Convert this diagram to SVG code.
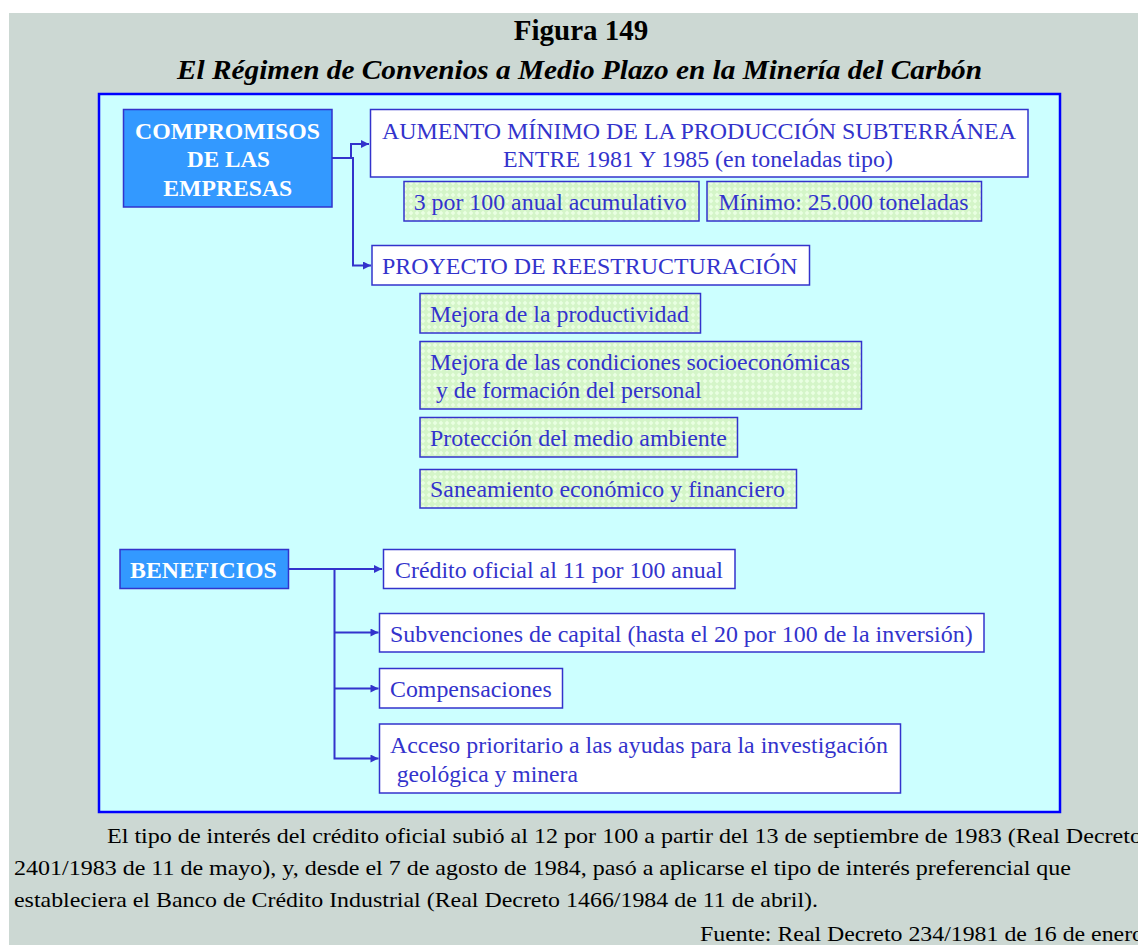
<svg xmlns="http://www.w3.org/2000/svg" width="1138" height="945" viewBox="0 0 1138 945">
<style>
.t{font-family:"Liberation Serif","Times New Roman",serif}
.title{font-weight:bold;fill:#000;font-size:29px}
.sub{font-weight:bold;font-style:italic;fill:#000;font-size:27px}
.head{fill:#3399FF;stroke:#3333CC;stroke-width:1.5}
.headtxt{font-weight:bold;fill:#fff;font-size:23px}
.wbox{fill:#fff;stroke:#3333CC;stroke-width:1.5}
.gbox{fill:url(#hatch);stroke:#3333CC;stroke-width:1.5}
.btxt{fill:#3333CC;font-size:23px}
.note{fill:#000;font-size:21px}
.conn{fill:none;stroke:#3333CC;stroke-width:2}
</style>
<defs>
<pattern id="hatch" width="6" height="6" patternUnits="userSpaceOnUse">
<rect width="6" height="6" fill="#D4F5C8"/>
<path d="M3 0.6 L5.4 3 L3 5.4 L0.6 3 Z" fill="#E9FFE2"/>
</pattern>
<marker id="arr" viewBox="0 0 10 10" refX="10" refY="5" markerWidth="9" markerHeight="8" markerUnits="userSpaceOnUse" orient="auto">
<path d="M0 0 L10 5 L0 10 Z" fill="#3333CC"/>
</marker>
</defs>
<rect x="9" y="13" width="1129" height="932" fill="#CCD8D3"/>
<text class="t title" x="581" y="40" text-anchor="middle">Figura 149</text>
<text class="t sub" x="177" y="79" textLength="805" lengthAdjust="spacingAndGlyphs">El Régimen de Convenios a Medio Plazo en la Minería del Carbón</text>
<rect x="99" y="94" width="961" height="718" fill="#CCFFFF" stroke="#0000FF" stroke-width="2.5"/>

<g id="connectors">
<polyline class="conn" points="332,158 351,158 351,144 369,144" marker-end="url(#arr)"/>
<polyline class="conn" points="332,158 353,158 353,265.5 371,265.5" marker-end="url(#arr)"/>
<polyline class="conn" points="289,569 382,569" marker-end="url(#arr)"/>
<polyline class="conn" points="334.5,569 334.5,758.5 378.5,758.5" marker-end="url(#arr)"/>
<polyline class="conn" points="334.5,632.5 378.5,632.5" marker-end="url(#arr)"/>
<polyline class="conn" points="334.5,688.5 378.5,688.5" marker-end="url(#arr)"/>
</g>

<g id="compromisos">
<rect class="head" x="123.5" y="109.5" width="208.5" height="97.5"/>
<text class="t headtxt" x="227.5" y="139.3" text-anchor="middle" textLength="185" lengthAdjust="spacingAndGlyphs">COMPROMISOS</text>
<text class="t headtxt" x="228.5" y="167.3" text-anchor="middle" textLength="83" lengthAdjust="spacingAndGlyphs">DE LAS</text>
<text class="t headtxt" x="227.8" y="196" text-anchor="middle" textLength="129" lengthAdjust="spacingAndGlyphs">EMPRESAS</text>
</g>

<g id="aumento">
<rect class="wbox" x="370.5" y="109.5" width="657.5" height="67.5"/>
<text class="t btxt" x="699" y="139.3" text-anchor="middle" textLength="634" lengthAdjust="spacingAndGlyphs">AUMENTO MÍNIMO DE LA PRODUCCIÓN SUBTERRÁNEA</text>
<text class="t btxt" x="698" y="166.7" text-anchor="middle" textLength="390" lengthAdjust="spacingAndGlyphs">ENTRE 1981 Y 1985 (en toneladas tipo)</text>
</g>

<g id="acumulativo">
<rect class="gbox" x="404" y="181.5" width="295" height="39.5"/>
<text class="t btxt" x="413.7" y="210" textLength="273" lengthAdjust="spacingAndGlyphs">3 por 100 anual acumulativo</text>
</g>

<g id="minimo">
<rect class="gbox" x="707" y="181.5" width="274.5" height="39.5"/>
<text class="t btxt" x="718.6" y="210" textLength="250" lengthAdjust="spacingAndGlyphs">Mínimo: 25.000 toneladas</text>
</g>

<g id="proyecto">
<rect class="wbox" x="372" y="245.5" width="437.5" height="39.5"/>
<text class="t btxt" x="382" y="274" textLength="415.6" lengthAdjust="spacingAndGlyphs">PROYECTO DE REESTRUCTURACIÓN</text>
</g>

<g id="productividad">
<rect class="gbox" x="420" y="293.5" width="280.5" height="39.5"/>
<text class="t btxt" x="430" y="321.7" textLength="259" lengthAdjust="spacingAndGlyphs">Mejora de la productividad</text>
</g>

<g id="condiciones">
<rect class="gbox" x="420" y="341.5" width="441.5" height="67.5"/>
<text class="t btxt" x="430" y="370" textLength="420" lengthAdjust="spacingAndGlyphs">Mejora de las condiciones socioeconómicas</text>
<text class="t btxt" x="436" y="398.3" textLength="265.7" lengthAdjust="spacingAndGlyphs">y de formación del personal</text>
</g>

<g id="medioambiente">
<rect class="gbox" x="420" y="417.5" width="317.5" height="39.5"/>
<text class="t btxt" x="430" y="445.7" textLength="297" lengthAdjust="spacingAndGlyphs">Protección del medio ambiente</text>
</g>

<g id="saneamiento">
<rect class="gbox" x="420" y="469.5" width="376.5" height="38.5"/>
<text class="t btxt" x="430" y="497.3" textLength="355" lengthAdjust="spacingAndGlyphs">Saneamiento económico y financiero</text>
</g>

<g id="beneficios">
<rect class="head" x="120" y="549.5" width="168.5" height="39"/>
<text class="t headtxt" x="203.4" y="578.3" text-anchor="middle" textLength="146.7" lengthAdjust="spacingAndGlyphs">BENEFICIOS</text>
</g>

<g id="credito">
<rect class="wbox" x="383.5" y="549.5" width="351.5" height="39"/>
<text class="t btxt" x="395" y="578" textLength="328" lengthAdjust="spacingAndGlyphs">Crédito oficial al 11 por 100 anual</text>
</g>

<g id="subvenciones">
<rect class="wbox" x="379.5" y="613.5" width="604.5" height="38.5"/>
<text class="t btxt" x="390" y="641.7" textLength="582.7" lengthAdjust="spacingAndGlyphs">Subvenciones de capital (hasta el 20 por 100 de la inversión)</text>
</g>

<g id="compensaciones">
<rect class="wbox" x="379.5" y="668.5" width="183" height="39.5"/>
<text class="t btxt" x="390" y="696.7" textLength="161.7" lengthAdjust="spacingAndGlyphs">Compensaciones</text>
</g>

<g id="acceso">
<rect class="wbox" x="379.5" y="724" width="521" height="69"/>
<text class="t btxt" x="390" y="753.3" textLength="498" lengthAdjust="spacingAndGlyphs">Acceso prioritario a las ayudas para la investigación</text>
<text class="t btxt" x="396.7" y="781.7" textLength="181.3" lengthAdjust="spacingAndGlyphs">geológica y minera</text>
</g>

<g id="nota">
<text class="t note" x="107" y="843" textLength="1035" lengthAdjust="spacingAndGlyphs">El tipo de interés del crédito oficial subió al 12 por 100 a partir del 13 de septiembre de 1983 (Real Decreto</text>
<text class="t note" x="14" y="875" textLength="1057" lengthAdjust="spacingAndGlyphs">2401/1983 de 11 de mayo), y, desde el 7 de agosto de 1984, pasó a aplicarse el tipo de interés preferencial que</text>
<text class="t note" x="14" y="907" textLength="804" lengthAdjust="spacingAndGlyphs">estableciera el Banco de Crédito Industrial (Real Decreto 1466/1984 de 11 de abril).</text>
<text class="t note" x="700" y="941" textLength="444" lengthAdjust="spacingAndGlyphs">Fuente: Real Decreto 234/1981 de 16 de enero</text>
</g>
</svg>
